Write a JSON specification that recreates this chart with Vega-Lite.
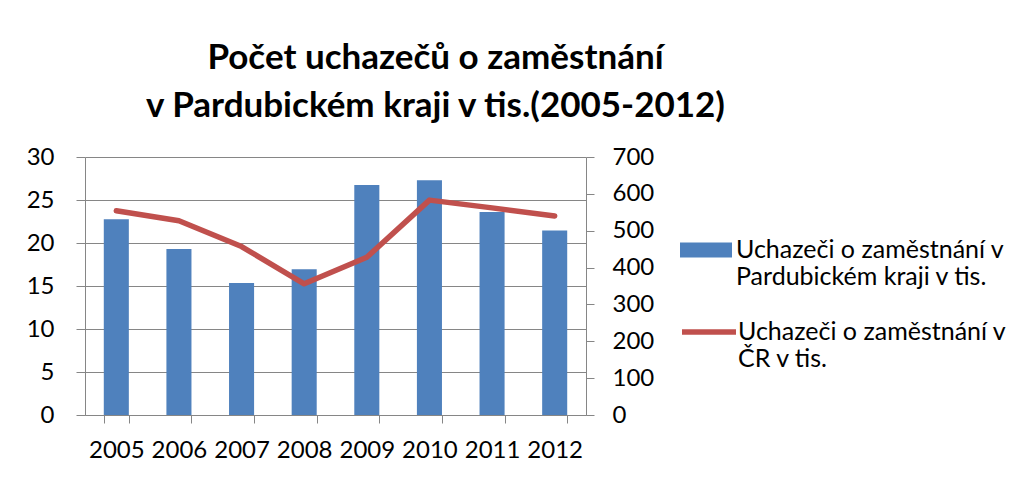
{
  "$schema": "https://vega.github.io/schema/vega-lite/v6.json",
  "width": 501,
  "height": 258,
  "autosize": "none",
  "padding": {"left": 85, "top": 157, "right": 430, "bottom": 62},
  "background": "white",
  "config": {"view": {"stroke": null}, "font": "Lato"},
  "title": {
    "text": ["Počet uchazečů o zaměstnání", "v Pardubickém kraji v tis.(2005-2012)"],
    "font": "Lato",
    "fontSize": 35,
    "fontWeight": "bold",
    "color": "black",
    "lineHeight": 48,
    "anchor": "middle",
    "dx": 100,
    "offset": 21
  },
  "data": {
    "values": [
      {"year": "2005", "pce": 22.75, "cr": 554},
      {"year": "2006", "pce": 19.3, "cr": 527},
      {"year": "2007", "pce": 15.35, "cr": 457},
      {"year": "2008", "pce": 16.95, "cr": 356},
      {"year": "2009", "pce": 26.75, "cr": 428},
      {"year": "2010", "pce": 27.3, "cr": 583},
      {"year": "2011", "pce": 23.6, "cr": 562},
      {"year": "2012", "pce": 21.45, "cr": 540}
    ]
  },
  "encoding": {
    "x": {
      "field": "year",
      "type": "ordinal",
      "scale": {"paddingInner": 0.6, "paddingOuter": 0.3},
      "axis": {
        "title": null,
        "labelAngle": 0,
        "labelFont": "Lato",
        "labelFontSize": 24,
        "labelColor": "black",
        "labelPadding": 15,
        "tickBand": "extent",
        "tickSize": 8,
        "tickColor": "#868686",
        "domainColor": "#868686",
        "grid": false
      }
    }
  },
  "layer": [
    {
      "mark": {"type": "bar"},
      "encoding": {
        "y": {
          "field": "pce",
          "type": "quantitative",
          "scale": {"domain": [0, 30]},
          "axis": {
            "title": null,
            "orient": "left",
            "values": [0, 5, 10, 15, 20, 25, 30],
            "labelFont": "Lato",
            "labelFontSize": 24,
            "labelColor": "black",
            "labelPadding": 22,
            "tickSize": 9,
            "tickColor": "#868686",
            "domainColor": "#868686",
            "grid": true,
            "gridColor": "#868686"
          }
        },
        "fill": {
          "datum": "Uchazeči o zaměstnání v|Pardubickém kraji v tis.",
          "type": "nominal",
          "scale": {"range": ["#4F81BD"]},
          "legend": {
            "title": null,
            "orient": "none",
            "legendX": 595,
            "legendY": 67,
            "symbolType": "M-1,-0.29H1V0.29H-1Z",
            "symbolSize": 2704,
            "symbolStrokeWidth": 0,
            "labelExpr": "split(datum.label, '|')",
            "labelFont": "Lato",
            "labelFontSize": 25,
            "labelLineHeight": 32,
            "labelColor": "black",
            "labelLimit": 400,
            "labelOffset": 4,
            "labelBaseline": "middle"
          }
        }
      }
    },
    {
      "mark": {"type": "line", "strokeWidth": 5.5, "strokeCap": "round", "strokeJoin": "round"},
      "encoding": {
        "y": {
          "field": "cr",
          "type": "quantitative",
          "scale": {"domain": [0, 700]},
          "axis": {
            "title": null,
            "orient": "right",
            "values": [0, 100, 200, 300, 400, 500, 600, 700],
            "labelFont": "Lato",
            "labelFontSize": 24,
            "labelColor": "black",
            "labelPadding": 18,
            "tickSize": 8,
            "tickColor": "#868686",
            "domainColor": "#868686",
            "grid": false
          }
        },
        "stroke": {
          "datum": "Uchazeči o zaměstnání v|ČR v tis.",
          "type": "nominal",
          "scale": {"range": ["#C0504D"]},
          "legend": {
            "title": null,
            "orient": "none",
            "legendX": 594,
            "legendY": 145,
            "symbolType": "M-1,0H1",
            "symbolSize": 2916,
            "symbolStrokeWidth": 5.5,
            "labelExpr": "split(datum.label, '|')",
            "labelFont": "Lato",
            "labelFontSize": 25,
            "labelLineHeight": 31,
            "labelColor": "black",
            "labelLimit": 400,
            "labelOffset": -1,
            "labelBaseline": "middle"
          }
        }
      }
    }
  ],
  "resolve": {"scale": {"y": "independent"}}
}
